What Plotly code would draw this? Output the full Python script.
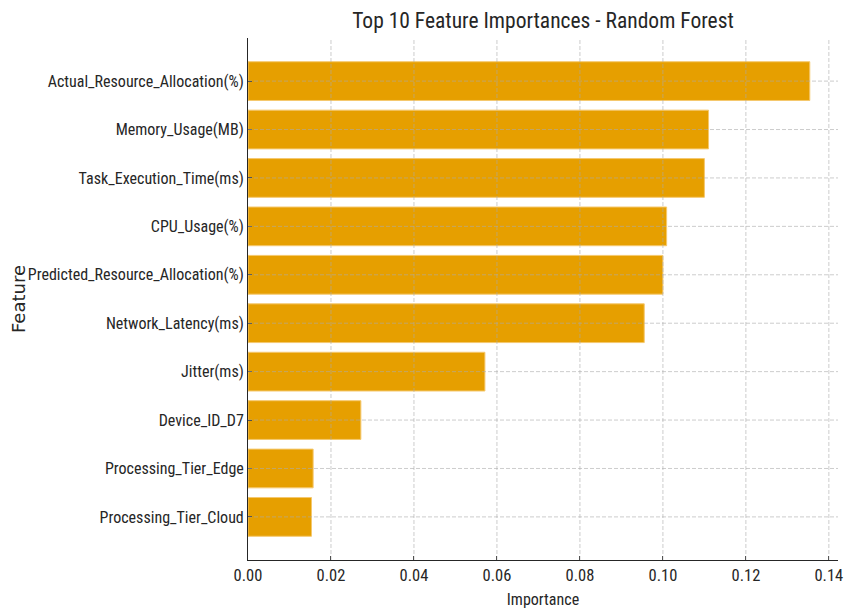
import plotly.graph_objects as go

features = [
    "Processing_Tier_Cloud",
    "Processing_Tier_Edge",
    "Device_ID_D7",
    "Jitter(ms)",
    "Network_Latency(ms)",
    "Predicted_Resource_Allocation(%)",
    "CPU_Usage(%)",
    "Task_Execution_Time(ms)",
    "Memory_Usage(MB)",
    "Actual_Resource_Allocation(%)",
]
importances = [0.0153, 0.0157, 0.0272, 0.0571, 0.0955, 0.1000, 0.1009, 0.1100, 0.1110, 0.1354]
x_ticks = [0.00, 0.02, 0.04, 0.06, 0.08, 0.10, 0.12, 0.14]

FONT = "Roboto Condensed"
TXT = "#262626"
GRID = "rgba(170,170,170,0.6)"

W, H = 844, 612
L, R, T, B = 248, 6, 38, 52

fig = go.Figure()
fig.add_trace(go.Bar(
    x=importances,
    y=list(range(len(features))),
    orientation="h",
    width=0.8,
    marker=dict(color="#E69F00", line=dict(color="rgba(245,200,110,1)", width=1)),
    hoverinfo="skip",
))

xmax = 0.1422
n = len(features)

shapes = []
for t in x_ticks[1:]:
    shapes.append(dict(type="line", xref="x", yref="paper", x0=t, x1=t, y0=0, y1=1,
                       line=dict(color=GRID, width=1, dash="4px,2px"), layer="above"))
for i in range(n):
    shapes.append(dict(type="line", xref="paper", yref="y", x0=0, x1=1, y0=i, y1=i,
                       line=dict(color=GRID, width=1, dash="4px,2px"), layer="above"))

fig.update_layout(
    width=W, height=H,
    margin=dict(l=L, r=R, t=T, b=B),
    plot_bgcolor="white", paper_bgcolor="white",
    showlegend=False,
    title=dict(text="Top 10 Feature Importances - Random Forest",
               xref="paper", x=0.5, xanchor="center",
               yref="container", y=1 - 20 / H, yanchor="middle",
               font=dict(family=FONT, size=21.5, color=TXT)),
    shapes=shapes,
    annotations=[dict(text="Feature", textangle=-90, showarrow=False,
                      xref="paper", yref="paper", x=(18 - L) / (W - L - R), y=0.5,
                      xanchor="center", yanchor="middle",
                      font=dict(family="DejaVu Sans", size=18, color=TXT))],
    xaxis=dict(
        range=[0, xmax], tickvals=x_ticks, ticktext=[f"{t:.2f}" for t in x_ticks],
        showgrid=False, zeroline=False, automargin=False,
        showline=True, linecolor=TXT, linewidth=1,
        ticks="inside", ticklen=4, tickcolor=TXT,
        tickfont=dict(family=FONT, size=16.5, color=TXT),
        title=dict(text="Importance", font=dict(family=FONT, size=16, color=TXT), standoff=10),
    ),
    yaxis=dict(
        range=[-0.89, n - 1 + 0.89],
        tickvals=list(range(n)), ticktext=features,
        showgrid=False, zeroline=False, automargin=False,
        showline=True, linecolor=TXT, linewidth=1,
        ticks="inside", ticklen=4, tickcolor=TXT,
        tickfont=dict(family=FONT, size=16, color=TXT),
    ),
)

fig.write_html("out.html", config={"displayModeBar": False},
               post_script="document.body.style.margin='0';document.body.style.overflow='hidden';")
